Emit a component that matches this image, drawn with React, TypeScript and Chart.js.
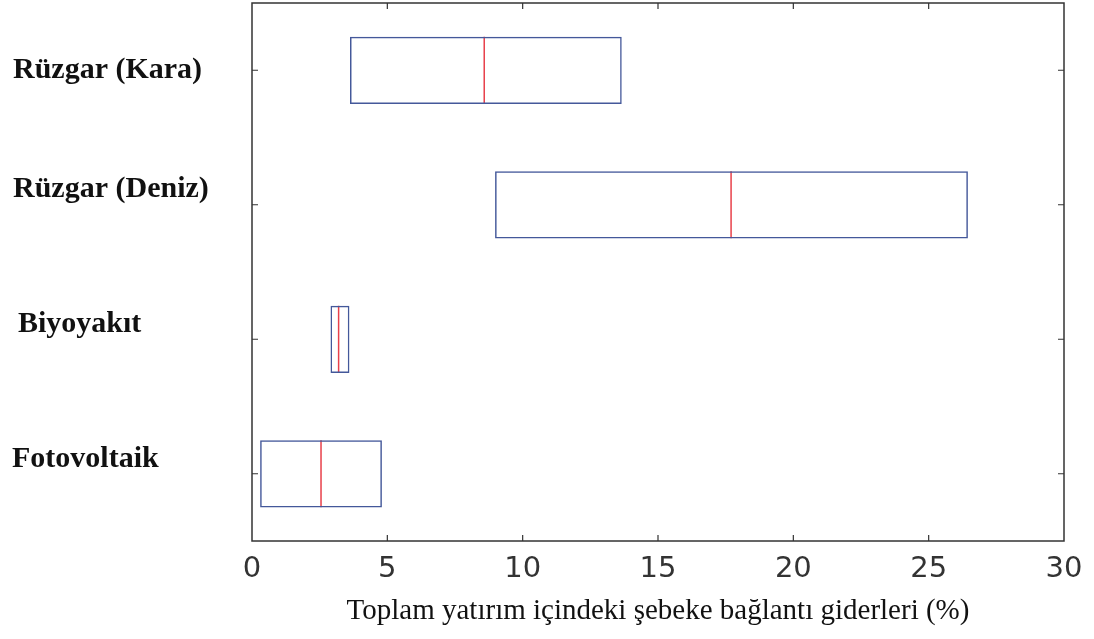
import React, { useEffect, useRef } from "react";
import { Chart, registerables } from "chart.js";

Chart.register(...registerables);

const categories = ["Rüzgar (Kara)", "Rüzgar (Deniz)", "Biyoyakıt", "Fotovoltaik"];
const q1Values = [3.62, 8.98, 2.9, 0.3];
const q3Values = [13.66, 26.45, 3.6, 4.8];
const medianValues = [8.58, 17.7, 3.2, 2.55];
const xTickValues = [0, 5, 10, 15, 20, 25, 30];
const xTitle = "Toplam yatırım içindeki şebeke bağlantı giderleri (%)";

const labelDx = [13, 13, 18, 12];
const labelDy = [8, -8, -7, -7];

const framePlugin = {
  id: "frameAndLabels",
  afterDraw(chart: any) {
    const { ctx, chartArea } = chart;
    const xs = chart.scales.x;
    const ys = chart.scales.y;
    const { left, right, top, bottom } = chartArea;
    ctx.save();
    ctx.strokeStyle = "#333333";
    ctx.lineWidth = 1.5;
    ctx.strokeRect(left, top, right - left, bottom - top);
    ctx.lineWidth = 1.2;
    ctx.beginPath();
    const tl = 6;
    xTickValues.forEach((v) => {
      if (v === xs.min || v === xs.max) return;
      const px = xs.getPixelForValue(v);
      ctx.moveTo(px, bottom);
      ctx.lineTo(px, bottom - tl);
      ctx.moveTo(px, top);
      ctx.lineTo(px, top + tl);
    });
    categories.forEach((_, i) => {
      const py = ys.getPixelForValue(i);
      ctx.moveTo(left, py);
      ctx.lineTo(left + tl, py);
      ctx.moveTo(right, py);
      ctx.lineTo(right - tl, py);
    });
    ctx.stroke();
    ctx.fillStyle = "#111111";
    ctx.font = "bold 30px 'Liberation Serif', serif";
    ctx.textAlign = "left";
    ctx.textBaseline = "alphabetic";
    categories.forEach((c, i) => {
      const py = ys.getPixelForValue(i);
      ctx.fillText(c, labelDx[i], py + labelDy[i]);
    });
    ctx.restore();
  },
};

export default function App() {
  const ref = useRef<HTMLCanvasElement | null>(null);
  useEffect(() => {
    if (!ref.current) return;
    const chart = new Chart(ref.current, {
      type: "bar",
      data: {
        labels: categories,
        datasets: [
          {
            type: "bar",
            data: categories.map((_, i) => [q1Values[i], q3Values[i]]),
            backgroundColor: "rgba(0,0,0,0)",
            borderColor: "#44589a",
            borderWidth: 1.5,
            borderSkipped: false,
            barPercentage: 0.5,
            categoryPercentage: 1,
            grouped: false,
          } as any,
          {
            type: "line",
            indexAxis: "y",
            data: categories.map((c, i) => ({ x: medianValues[i], y: c })),
            showLine: false,
            pointStyle: "line",
            rotation: 90,
            pointRadius: 33.5,
            pointHoverRadius: 33.5,
            pointBorderWidth: 1.5,
            pointBorderColor: "#e8404a",
            borderColor: "#e8404a",
          } as any,
        ],
      },
      options: {
        indexAxis: "y",
        animation: false,
        responsive: true,
        maintainAspectRatio: false,
        layout: { autoPadding: false, padding: { top: 3, right: 30, bottom: 0, left: 0 } },
        plugins: { legend: { display: false }, tooltip: { enabled: false } },
        scales: {
          x: {
            type: "linear",
            min: 0,
            max: 30,
            afterBuildTicks(scale: any) {
              scale.ticks = xTickValues.map((v) => ({ value: v }));
            },
            afterFit(scale: any) {
              scale.height = 98;
            },
            grid: { display: false, drawTicks: false },
            border: { display: false },
            ticks: {
              padding: 11,
              color: "#333333",
              font: { family: "'DejaVu Sans', sans-serif", size: 29 },
            },
            title: {
              display: true,
              text: xTitle,
              color: "#111111",
              font: { family: "'Liberation Serif', serif", size: 29 },
              padding: { top: 0, bottom: 10 },
            },
          },
          y: {
            type: "category",
            afterFit(scale: any) {
              scale.width = 252;
            },
            grid: { display: false, drawTicks: false },
            border: { display: false },
            ticks: { display: false },
          },
        },
      } as any,
      plugins: [framePlugin],
    });
    return () => chart.destroy();
  }, []);
  return (
    <div style={{ position: "fixed", left: 0, top: 0, width: 1094, height: 639, background: "#fff" }}>
      <canvas ref={ref} />
    </div>
  );
}
